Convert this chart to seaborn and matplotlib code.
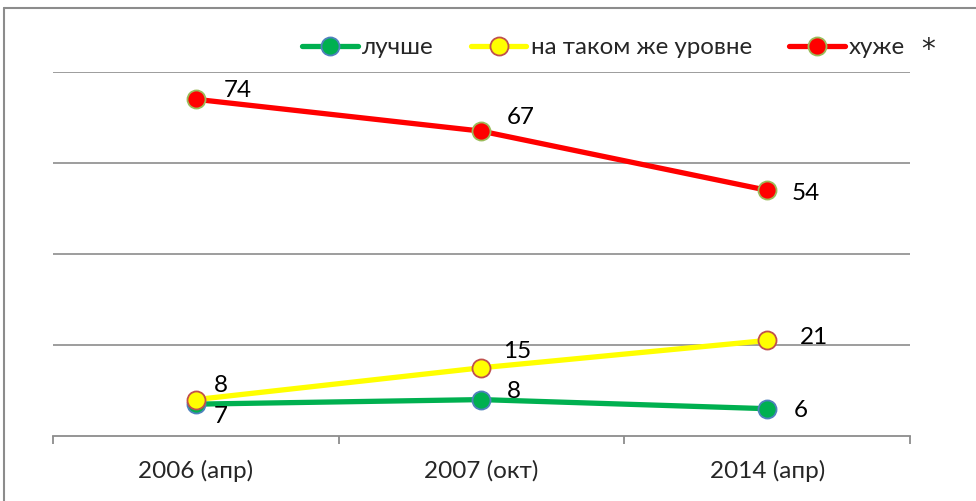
import matplotlib
matplotlib.use("Agg")
import matplotlib.pyplot as plt
import seaborn as sns
import pandas as pd
from matplotlib.lines import Line2D

categories = ["2006 (апр)", "2007 (окт)", "2014 (апр)"]
series_names = ["лучше", "на таком же уровне", "хуже"]
better = [7, 8, 6]
same = [8, 15, 21]
worse = [74, 67, 54]

sns.set_theme(style="white")
plt.rcParams['font.family'] = ['Lato', 'DejaVu Sans']

fig = plt.figure(figsize=(9.76, 5.01), dpi=100)
ax = fig.add_axes([53/976, 1-436/501, (910-53)/976, (436-72)/501])

styles = [
    (better, "#00B050", "#4F81BD"),
    (same, "#FFFF00", "#C0504D"),
    (worse, "#FF0000", "#9BBB59"),
]
for name, (vals, col, edge) in zip(series_names, styles):
    df = pd.DataFrame({"x": list(range(len(categories))), "y": vals})
    sns.lineplot(data=df, x="x", y="y", ax=ax, color=col, linewidth=3.8,
                 marker="o", markersize=13, markerfacecolor=col,
                 markeredgecolor=edge, markeredgewidth=1.3, label=name)

# data labels (offsets in points)
lab_off = {
    0: [(18, -9), (23, 5.5), (24, -1.5)],
    1: [(18, 10), (26, 12), (34, 2)],
    2: [(30, 6), (28, 10), (28, -2)],
}
for si, vals in enumerate([better, same, worse]):
    for i, v in enumerate(vals):
        dx, dy = lab_off[si][i]
        ax.annotate(str(v), (i, v), xytext=(dx, dy), textcoords="offset points",
                    ha="center", va="center", fontsize=17.5, color="black")

ax.set_xlim(-0.5, 2.5)
ax.set_ylim(0, 80)
ax.set_yticks([20, 40, 60, 80])
ax.set_yticklabels([])
ax.tick_params(axis="y", length=0)
ax.grid(axis="y", color="#8C8C8C", linewidth=1.2)
ax.set_axisbelow(True)
ax.set_xticks(range(len(categories)))
ax.set_xticklabels(categories, fontsize=17.5)
ax.set_xticks([-0.5, 0.5, 1.5, 2.5], minor=True)
ax.tick_params(axis="x", which="major", length=0, pad=17)
ax.tick_params(axis="x", which="minor", length=6, width=1.3, color="#8C8C8C", direction="out", bottom=True)
ax.set_xlabel("")
ax.set_ylabel("")
for s in ["top", "right", "left"]:
    ax.spines[s].set_visible(False)
ax.spines["bottom"].set_color("#8C8C8C")
ax.spines["bottom"].set_linewidth(1.3)

leg_y = (1-48/501 - (1-436/501)) / ((436-72)/501)
leg = ax.legend(loc="center", bbox_to_anchor=((603.5-53)/857, leg_y),
                ncol=3, frameon=False, fontsize=17.4, handlelength=2.3,
                columnspacing=1.55, handletextpad=0.17)
fig.text(928/976, 1-50/501, "*", fontsize=20, ha="center", va="center",
         family=["DejaVu Sans"])

# outer frame lines
fig.add_artist(Line2D([4/976, 1], [1-8/501, 1-8/501], color="#8C8C8C", linewidth=1.5, transform=fig.transFigure))
fig.add_artist(Line2D([4/976, 4/976], [0, 1-8/501], color="#8C8C8C", linewidth=1.5, transform=fig.transFigure))

fig.savefig("out.png", dpi=100)
